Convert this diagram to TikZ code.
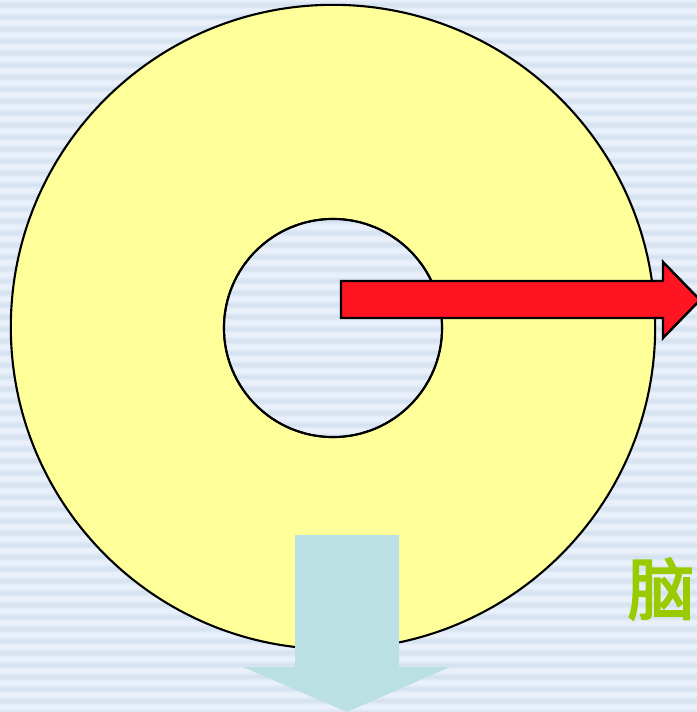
\documentclass[tikz,border=0pt]{standalone}
\usepackage{fontspec}
\newfontfamily\cjk[FakeBold=3]{Noto Sans CJK SC}
\usepackage{tikz}

\definecolor{bgdark}{HTML}{D3E0EF}
\definecolor{bglight}{HTML}{E9F0FA}
\definecolor{discyellow}{HTML}{FFFF99}
\definecolor{arrowred}{HTML}{FF1522}
\definecolor{arrowblue}{HTML}{BBE0E3}
\definecolor{textgreen}{HTML}{99CC00}

\tikzset{
  disc/.style={circle, draw=black, line width=0.6pt, inner sep=0pt},
}

\begin{document}
\begin{tikzpicture}[x=0.01cm, y=-0.01cm]
  \useasboundingbox (0,0) rectangle (697,712);
  \clip (0,0) rectangle (697,712);
  % ---------- striped background ----------
  \fill[bglight] (0,0) rectangle (697,712);
  \foreach \i in {0,...,59}
    \shade[top color=bglight, bottom color=bglight, middle color=bgdark]
      (0,12*\i) rectangle (697,12*\i+9);
  % ---------- the ring ----------
  \node[disc, fill=discyellow, minimum size=6.44cm] (outer) at (333,327) {};
  \node[disc, fill=bglight, minimum size=2.18cm] (inner) at (333,328) {};
  \begin{scope}
    \clip (inner.center) circle (108);
    \foreach \i in {18,...,37}
      \shade[top color=bglight, bottom color=bglight, middle color=bgdark]
        (0,12*\i) rectangle (697,12*\i+9);
  \end{scope}
  \draw[line width=0.6pt] (inner.center) circle (109);
  % ---------- red arrow to the right ----------
  \draw[fill=arrowred, line width=0.7pt, line join=miter]
    (341,281) -- (663,281) -- (663,262) -- (700,300) -- (663,338)
    -- (663,318) -- (341,318) -- cycle;
  % ---------- blue arrow downwards ----------
  \fill[arrowblue]
    (295,535) -- (399,535) -- (399,667) -- (450,667) -- (347,712)
    -- (243,667) -- (295,667) -- cycle;
  % ---------- label at the right edge ----------
  \node[anchor=west, inner sep=0pt, text=textgreen, font=\cjk\fontsize{19}{19}\selectfont]
    (brain) at (627,589) {脑};
\end{tikzpicture}
\end{document}
